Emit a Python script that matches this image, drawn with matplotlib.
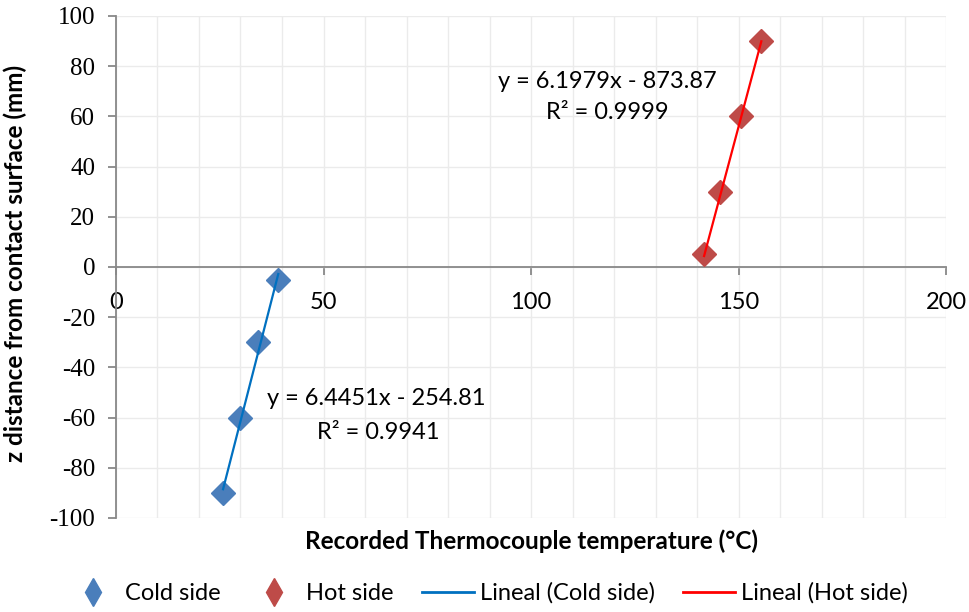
import matplotlib
matplotlib.use("Agg")
import matplotlib.pyplot as plt
from matplotlib.lines import Line2D
import numpy as np

plt.rcParams['font.family'] = ['Lato', 'DejaVu Sans']
plt.rcParams['font.serif'] = ['Liberation Serif', 'Times New Roman', 'DejaVu Serif']
plt.rcParams['axes.unicode_minus'] = False

cold_x = [39.1, 34.3, 30.0, 25.8]
cold_y = [-5, -30, -60, -90]
hot_x = [141.7, 145.6, 150.6, 155.5]
hot_y = [5, 30, 60, 90]
cold_fit = (6.4451, -254.81)
hot_fit = (6.1979, -873.87)
cold_eq = ["y = 6.4451x - 254.81", "R² = 0.9941"]
hot_eq = ["y = 6.1979x - 873.87", "R² = 0.9999"]
x_ticks = [0, 50, 100, 150, 200]
y_ticks = [-100, -80, -60, -40, -20, 0, 20, 40, 60, 80, 100]

fig = plt.figure(figsize=(9.69, 6.12), dpi=100)
ax = fig.add_axes([0.1197, 0.1536, 0.8566, 0.8203])

ax.set_xlim(0, 200)
ax.set_ylim(-100, 100)
ax.set_xticks(x_ticks)
ax.set_yticks(y_ticks)
ax.set_xticks(np.arange(0, 201, 10), minor=True)
ax.grid(True, which='both', axis='x', color='#ebebeb', lw=1.0)
ax.grid(True, which='major', axis='y', color='#ebebeb', lw=1.0)
ax.tick_params(axis='x', which='minor', length=0)
ax.set_axisbelow(True)

for s in ['top', 'right']:
    ax.spines[s].set_visible(False)
ax.spines['left'].set_position(('data', 0))
ax.spines['bottom'].set_position(('data', 0))
for s in ['left', 'bottom']:
    ax.spines[s].set_color('#888888')
    ax.spines[s].set_linewidth(1.3)
ax.tick_params(axis='both', which='major', direction='out', color='#888888',
               width=1.3, length=6, labelcolor='black')
ax.tick_params(axis='x', pad=12, labelsize=17)
ax.tick_params(axis='y', pad=9, labelsize=18, labelfontfamily='serif')

def fitline(xs, fit):
    xx = np.array([min(xs), max(xs)])
    return xx, fit[0] * xx + fit[1]

cx, cy = fitline(cold_x, cold_fit)
hx, hy = fitline(hot_x, hot_fit)

c_blue = '#4A7EBB'
c_red = '#BE4B48'
ax.plot(cold_x, cold_y, 'D', color=c_blue, ms=12, mec=c_blue, zorder=3)
ax.plot(hot_x, hot_y, 'D', color=c_red, ms=12, mec=c_red, zorder=3)
ax.plot(cx, cy, '-', color='#0070C0', lw=1.6, zorder=4)
ax.plot(hx, hy, '-', color='#FF0000', lw=1.6, zorder=4)

ax.text(118.3, 73.7, hot_eq[0], ha='center', va='center', fontsize=17)
ax.text(118.3, 61.7, hot_eq[1], ha='center', va='center', fontsize=17)
ax.text(62.7, -52.2, cold_eq[0], ha='center', va='center', fontsize=17)
ax.text(63.2, -66.1, cold_eq[1], ha='center', va='center', fontsize=17)

fig.text(0.016, 0.5695, 'z distance from contact surface (mm)', rotation=90,
         ha='center', va='center', fontsize=17.5, fontweight='bold')
fig.text(0.548, 0.116, 'Recorded Thermocouple temperature (°C)',
         ha='center', va='center', fontsize=17.5, fontweight='bold')

handles = [
    Line2D([], [], ls='none', marker='d', ms=14, color=c_blue, mec=c_blue),
    Line2D([], [], ls='none', marker='d', ms=14, color=c_red, mec=c_red),
    Line2D([], [], color='#0070C0', lw=2),
    Line2D([], [], color='#FF0000', lw=2),
]
labels = ['Cold side', 'Hot side', 'Lineal (Cold side)', 'Lineal (Hot side)']
fig.legend(handles, labels, loc='center', bbox_to_anchor=(0.503, 0.031), ncol=4,
           frameon=False, fontsize=17, handlelength=2.2, columnspacing=1.2,
           handletextpad=0.25)

fig.savefig('out.png', dpi=100)
